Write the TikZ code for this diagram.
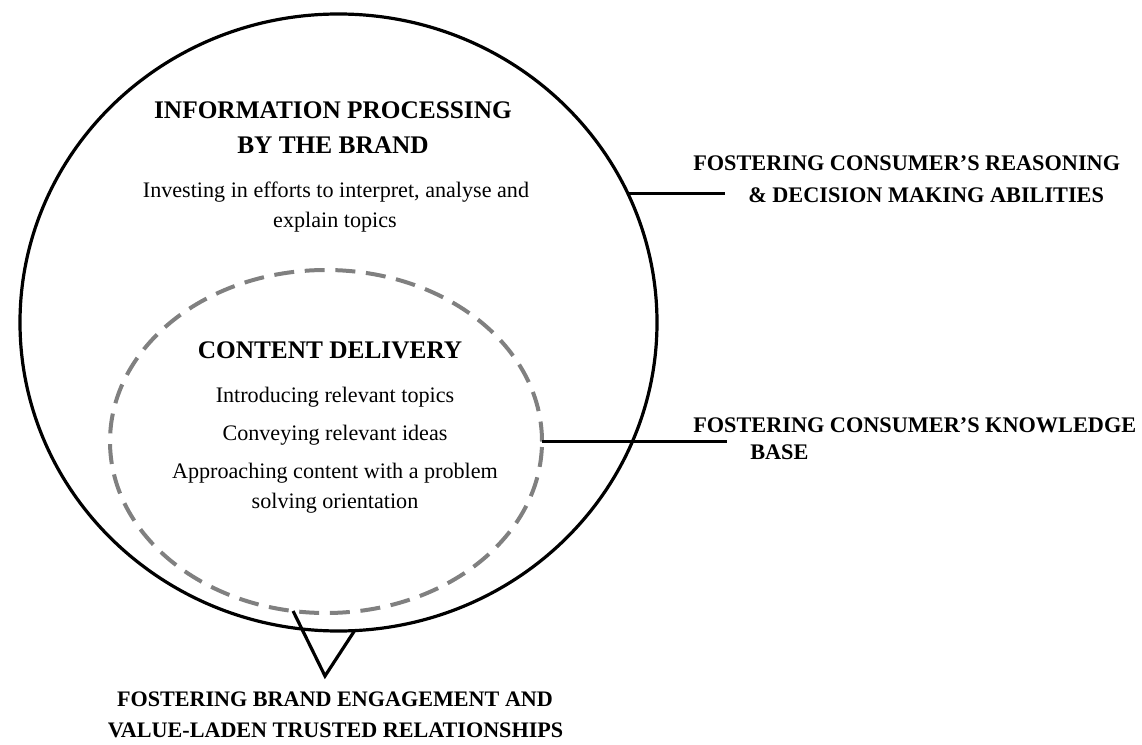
\documentclass[tikz,border=0pt]{standalone}
\usepackage{fontspec}
\setmainfont{Liberation Serif}
\usetikzlibrary{shapes.geometric}
\definecolor{dashgray}{RGB}{128,128,128}

\begin{document}
\begin{tikzpicture}[line cap=butt,line join=miter,x=0.75pt,y=-0.75pt,
	ring/.style={ellipse,draw,inner sep=0pt,outer sep=0pt},
	headtext/.style={font=\fontsize{19}{23}\selectfont\bfseries,inner sep=0pt,anchor=base},
	bodytext/.style={font=\fontsize{16.6}{20}\selectfont,inner sep=0pt,anchor=base},
	sidetext/.style={font=\fontsize{16.7}{20}\selectfont\bfseries,inner sep=0pt,anchor=base west},
	foottext/.style={font=\fontsize{16.6}{20}\selectfont\bfseries,inner sep=0pt,anchor=base}]

		\useasboundingbox (0,0) rectangle (1142,745);

		%ympyrat
		\node[ring,line width=2.4pt,minimum width=477.75pt,minimum height=462.75pt] (outer) at (338.5,322.5) {};
		\node[ring,line width=3pt,color=dashgray,dash pattern=on 15pt off 8pt,minimum width=324pt,minimum height=257.25pt] (inner) at (326,441.5) {};

		%ulompi teksti
		\node[headtext] (infoA) at (333,118.3) {INFORMATION PROCESSING};
		\node[headtext] (infoB) at (333,153.3) {BY THE BRAND};
		\node[bodytext] (investA) at (336,197.3) {Investing in efforts to interpret, analyse and};
		\node[bodytext] (investB) at (335,227.3) {explain topics};

		%sisempi teksti
		\node[headtext] (delivHead) at (330,358.3) {CONTENT DELIVERY};
		\foreach \y/\t [count=\i] in {402/Introducing relevant topics,440/Conveying relevant ideas,478/Approaching content with a problem,508/solving orientation}
		{
		\node[bodytext] (deliv\i) at (335,\y) {\t};
		}

		%sivut
		\node[sidetext] (reasonA) at (693,170.5) {FOSTERING CONSUMER’S REASONING};
		\node[sidetext] (reasonB) at (748,202.5) {\& DECISION MAKING ABILITIES};
		\node[sidetext] (knowA) at (693,432) {FOSTERING CONSUMER’S KNOWLEDGE};
		\node[sidetext] (knowB) at (750,459) {BASE};
		\node[foottext] (trustA) at (335,706) {FOSTERING BRAND ENGAGEMENT AND};
		\node[foottext] (trustB) at (335.5,737.3) {VALUE-LADEN TRUSTED RELATIONSHIPS};

		%viivat
		\coordinate (reasonEnd) at (725,190);
		\draw[line width=2.4pt] (outer.24.7) -- (outer.24.7 -| reasonEnd);
		\coordinate (knowEnd) at (727,443);
		\draw[line width=2.4pt] (inner.east) -- (inner.east -| knowEnd);
		\coordinate (trustTip) at (325,676);
		\draw[line width=2.4pt] (inner.-101) -- (trustTip) -- (outer.-87.7);

	\end{tikzpicture}
\end{document}
